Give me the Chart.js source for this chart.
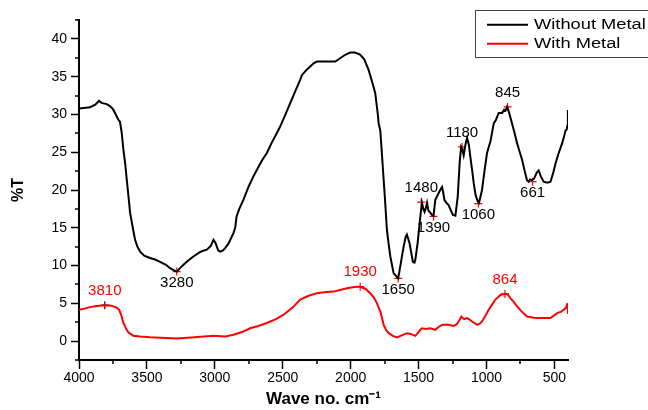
<!DOCTYPE html>
<html>
<head>
<meta charset="utf-8">
<script src="https://cdn.jsdelivr.net/npm/chart.js@4.4.1/dist/chart.umd.min.js"></script>
<style>
html,body{margin:0;padding:0;background:#fff;}
canvas{display:block;}
</style>
</head>
<body>
<canvas id="c" width="648" height="410"></canvas>
<script>
// ---- Data ----
const waveWithout = [4000,3950,3919,3880,3853,3830,3800,3772,3750,3735,3710,3698,3685,3673,3660,3649,3632,3624,3600,3587,3570,3550,3520,3477,3440,3403,3360,3329,3300,3280,3260,3231,3200,3158,3108,3080,3059,3030,3010,2995,2975,2960,2940,2924,2900,2863,2850,2840,2820,2790,2777,2750,2716,2680,2650,2617,2580,2550,2519,2480,2445,2410,2371,2359,2330,2300,2270,2248,2200,2150,2113,2080,2040,2003,1970,1940,1929,1900,1868,1840,1819,1800,1794,1782,1770,1757,1750,1733,1720,1708,1684,1660,1650,1635,1610,1595,1586,1567,1542,1530,1524,1507,1487,1475,1465,1456,1447,1438,1428,1419,1401,1390,1377,1352,1335,1327,1318,1310,1295,1279,1260,1247,1229,1212,1198,1187,1178,1168,1155,1143,1130,1119,1105,1094,1080,1065,1055,1033,1015,996,970,947,930,910,897,885,870,860,849,840,830,812,793,775,755,738,720,702,690,680,665,650,630,616,600,579,560,545,529,510,492,470,443,430,418,410,405,401];
const tWithout = [30.8,30.9,30.95,31.3,31.8,31.5,31.4,31.1,30.7,30.2,29.3,29.0,27.5,25.3,23.5,21.5,18.5,17.0,14.6,13.4,12.5,11.85,11.3,11.0,10.8,10.5,10.1,9.65,9.35,9.2,9.6,10.1,10.6,11.2,11.8,12.0,12.1,12.6,13.4,13.0,12.0,11.85,12.0,12.3,12.9,14.3,15.0,16.5,17.5,18.7,19.3,20.5,21.8,23.0,24.0,24.9,26.3,27.3,28.4,30.0,31.5,33.0,34.6,35.2,35.8,36.3,36.8,37.0,37.0,37.0,37.0,37.4,37.9,38.2,38.2,38.0,37.9,37.3,35.9,34.2,32.8,30.0,28.8,27.9,24.8,21.3,19.5,14.7,12.8,11.2,9.0,8.5,8.3,9.9,12.5,13.8,14.1,13.0,10.5,10.4,10.75,13.0,16.5,18.3,17.5,17.1,17.6,18.3,17.3,17.1,16.7,16.6,18.7,19.6,20.2,20.4,19.6,18.7,18.3,18.0,17.2,16.7,16.6,19.1,23.5,25.7,25.4,24.6,26.0,26.9,26.0,24.4,22.5,20.9,19.3,18.5,18.3,20.0,22.5,24.9,26.5,28.8,29.3,30.2,30.2,30.2,30.6,30.5,31.0,30.6,30.0,28.8,27.5,26.2,25.0,24.0,22.6,21.3,21.1,21.4,21.3,21.5,22.3,22.6,21.8,21.1,21.0,21.0,21.1,22.2,23.5,24.8,26.2,27.0,27.9,28.0,28.5,30.6];

const waveWith = [4000,3960,3919,3870,3808,3770,3747,3720,3705,3690,3673,3655,3636,3600,3550,3477,3400,3280,3150,3010,2924,2863,2800,2740,2680,2617,2550,2494,2430,2371,2310,2248,2180,2126,2070,2027,1960,1929,1890,1856,1830,1806,1780,1757,1740,1720,1690,1660,1620,1586,1560,1537,1524,1500,1487,1475,1450,1414,1377,1350,1327,1290,1242,1220,1205,1185,1165,1143,1120,1106,1069,1050,1033,1010,984,960,935,897,861,845,824,800,775,740,702,650,604,529,480,450,431,415,406,403,400];
const tWith = [4.15,4.3,4.5,4.65,4.75,4.7,4.6,4.4,4.15,3.5,2.4,1.7,1.15,0.7,0.6,0.5,0.45,0.35,0.5,0.7,0.6,0.85,1.2,1.7,2.0,2.4,2.9,3.5,4.4,5.5,6.0,6.35,6.5,6.55,6.8,7.0,7.2,7.2,6.9,6.35,5.8,5.0,3.8,2.15,1.5,1.05,0.7,0.5,0.8,1.05,0.95,0.8,0.7,1.2,1.5,1.7,1.6,1.7,1.5,1.9,2.15,2.2,2.0,2.2,2.6,3.25,2.9,3.05,2.8,2.6,2.15,2.3,2.6,3.3,4.15,4.8,5.5,6.1,6.25,6.2,5.7,5.2,4.6,3.9,3.25,3.1,3.05,3.05,3.7,3.9,4.15,4.4,4.9,5.0,3.6];

const peakWaveWithout = [3280,1650,1480,1390,1180,1060,845,661];
const peakTWithout = [9.2,8.3,18.4,16.5,25.7,18.2,31.0,21.1];
const peakLabelsWithout = ['3280','1650','1480','1390','1180','1060','845','661'];

const peakWaveWith = [3810,1930,864];
const peakTWith = [4.75,7.2,6.25];
const peakLabelsWith = ['3810','1930','864'];

const seriesNames = ['Without Metal','With Metal'];
const xTickValues = [4000,3750,3500,3250,3000,2750,2500,2250,2000,1750,1500,1250,1000,750,500];
const yTickValues = [-2.5,0,2.5,5,7.5,10,12.5,15,17.5,20,22.5,25,27.5,30,32.5,35,37.5,40,42.5];

// label placement (style, not data)
const sideWithout = ['below','below','above','below','above','below','above','below'];
const sideWith = ['above','above','above'];
const markColorWith = ['#111','#ff0000','#ff0000'];

const FONT = "'Liberation Sans', Arial, Helvetica, sans-serif";
Chart.defaults.font.family = FONT;
Chart.defaults.color = '#000';

const toXY = (xs, ys) => xs.map((x, i) => ({x: x, y: ys[i]}));

const peakLabelPlugin = {
  id: 'peakLabels',
  afterDatasetsDraw(chart) {
    const ctx = chart.ctx, xs = chart.scales.x, ys = chart.scales.y;
    ctx.save();
    ctx.font = '15px ' + FONT;
    ctx.textAlign = 'center';
    ctx.textBaseline = 'middle';
    const draw = (ws, ts, labels, sides, color) => {
      ws.forEach((w, i) => {
        const px = xs.getPixelForValue(w), py = ys.getPixelForValue(ts[i]);
        const dy = sides[i] === 'above' ? -14.5 : 11;
        ctx.fillStyle = color;
        ctx.fillText(labels[i], px, py + dy);
      });
    };
    draw(peakWaveWithout, peakTWithout, peakLabelsWithout, sideWithout, '#000');
    draw(peakWaveWith, peakTWith, peakLabelsWith, sideWith, '#ff0000');
    ctx.restore();
  }
};

const minorTickPlugin = {
  id: 'minorTicks',
  afterDraw(chart) {
    const ctx = chart.ctx, xs = chart.scales.x, ys = chart.scales.y;
    const area = chart.chartArea;
    ctx.save();
    ctx.strokeStyle = '#000';
    ctx.lineWidth = 1.5;
    ctx.beginPath();
    xTickValues.forEach(v => {
      if (v % 500 !== 0) {
        const px = Math.round(xs.getPixelForValue(v));
        ctx.moveTo(px, area.bottom); ctx.lineTo(px, area.bottom + 4);
      }
    });
    yTickValues.forEach(v => {
      if (v % 5 !== 0) {
        const py = Math.round(ys.getPixelForValue(v));
        ctx.moveTo(area.left, py); ctx.lineTo(area.left - 4, py);
      }
    });
    ctx.stroke();
    ctx.restore();
  }
};

const legendPlugin = {
  id: 'boxLegend',
  afterDraw(chart) {
    const ctx = chart.ctx;
    ctx.save();
    ctx.strokeStyle = '#444';
    ctx.lineWidth = 1;
    ctx.strokeRect(475.5, 10.5, 200, 47);
    const rows = [24.7, 43.7];
    chart.data.datasets.slice(0, 2).forEach((ds, i) => {
      ctx.strokeStyle = ds.borderColor;
      ctx.lineWidth = 2;
      ctx.beginPath();
      ctx.moveTo(487, rows[i]); ctx.lineTo(528, rows[i]);
      ctx.stroke();
      ctx.save();
      ctx.translate(534, rows[i]);
      ctx.scale(1.18, 1);
      ctx.fillStyle = '#000';
      ctx.font = '15.5px ' + FONT;
      ctx.textAlign = 'left';
      ctx.textBaseline = 'middle';
      ctx.fillText(ds.label, 0, 0.5);
      ctx.restore();
    });
    ctx.restore();
  }
};

new Chart(document.getElementById('c'), {
  type: 'line',
  data: {
    datasets: [
      {label: seriesNames[0], data: toXY(waveWithout, tWithout), borderColor: '#000000', borderWidth: 2, pointRadius: 0, tension: 0, fill: false},
      {label: seriesNames[1], data: toXY(waveWith, tWith), borderColor: '#ff0000', borderWidth: 2, pointRadius: 0, tension: 0, fill: false},
      {label: '', data: toXY(peakWaveWithout, peakTWithout), showLine: false, pointStyle: 'cross', pointRadius: 4, pointBorderColor: '#ff0000', pointBorderWidth: 1.2, borderColor: '#ff0000'},
      {label: '', data: toXY(peakWaveWith, peakTWith), showLine: false, pointStyle: 'cross', pointRadius: 4, pointBorderColor: markColorWith, pointBorderWidth: 1.2, borderColor: '#ff0000'}
    ]
  },
  options: {
    responsive: false,
    animation: false,
    devicePixelRatio: 1,
    layout: {padding: {top: 20, right: 80, bottom: 0, left: 0}},
    plugins: {legend: {display: false}, tooltip: {enabled: false}},
    scales: {
      x: {
        type: 'linear', reverse: true, min: 400, max: 4000,
        afterBuildTicks: s => { s.ticks = xTickValues.map(v => ({value: v})); },
        afterFit: s => { s.height = 50; },
        grid: {display: true, drawOnChartArea: false, drawTicks: true, tickLength: 9,
               tickColor: c => (c.tick && c.tick.value % 500 === 0) ? '#000' : 'rgba(0,0,0,0)', tickWidth: 1.5},
        border: {display: true, color: '#000', width: 2},
        ticks: {autoSkip: false, maxRotation: 0, padding: 1, font: {size: 14}, color: '#000',
                callback: v => (v % 500 === 0 ? String(v) : '')},
        title: {display: true, text: 'Wave no. cm\u207B\u00B9', font: {size: 17, weight: 'bold'}, color: '#000', padding: {top: 0, bottom: 0}}
      },
      y: {
        type: 'linear', min: -2.5, max: 42.5,
        afterBuildTicks: s => { s.ticks = yTickValues.map(v => ({value: v})); },
        afterFit: s => { s.width = 79; },
        grid: {display: true, drawOnChartArea: false, drawTicks: true, tickLength: 8,
               tickColor: c => (c.tick && c.tick.value % 5 === 0) ? '#000' : 'rgba(0,0,0,0)', tickWidth: 1.5},
        border: {display: true, color: '#000', width: 2},
        ticks: {autoSkip: false, padding: 4, font: {size: 14}, color: '#000',
                callback: v => (v % 5 === 0 ? String(v) : '')},
        title: {display: true, text: '%T', font: {size: 16, weight: 'bold'}, color: '#000', padding: {top: 9, bottom: 9}}
      }
    }
  },
  plugins: [peakLabelPlugin, minorTickPlugin, legendPlugin]
});
</script>
</body>
</html>
